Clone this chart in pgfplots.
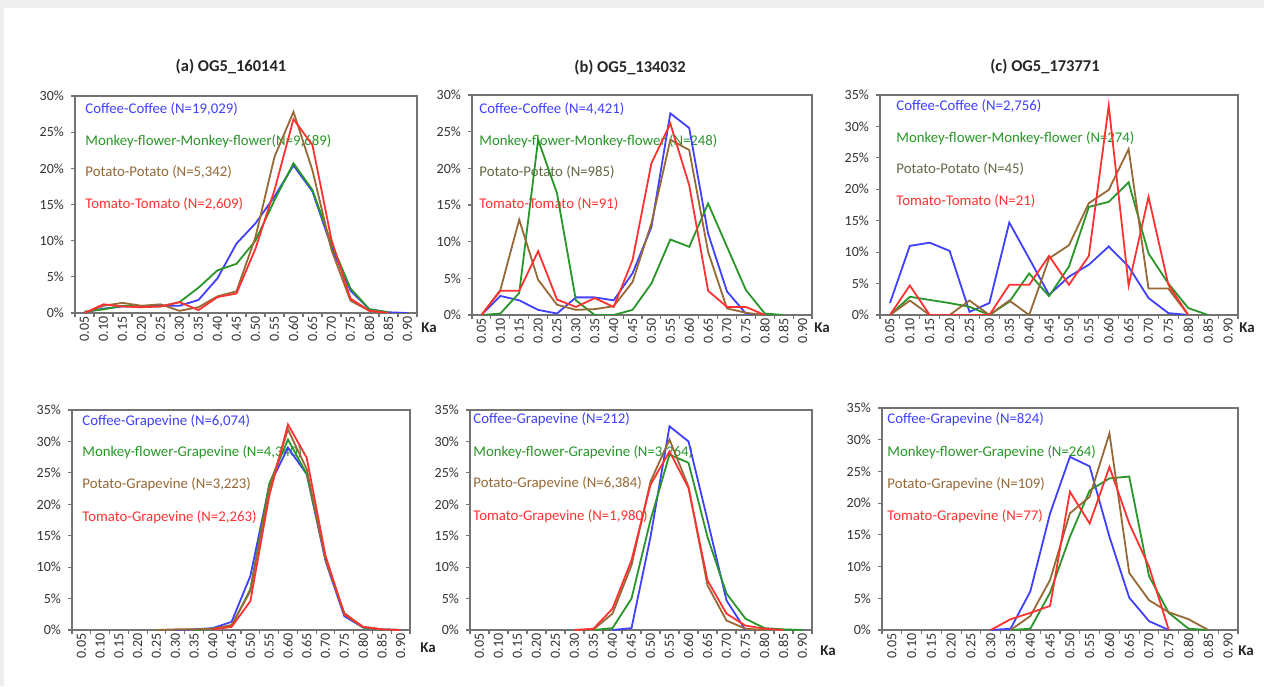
\documentclass[border=0pt]{standalone}
\usepackage{pgfplots}
\pgfplotsset{compat=1.18}
\usepackage{fontspec}
\setmainfont{Carlito}

\definecolor{cblue}{RGB}{64,64,255}
\definecolor{cgreen}{RGB}{40,150,40}
\definecolor{cbrown}{RGB}{150,105,55}
\definecolor{cred}{RGB}{255,50,50}
\definecolor{colive}{RGB}{95,105,70}
\definecolor{axgray}{RGB}{115,115,115}
\definecolor{bggray}{RGB}{238,238,238}

\pgfplotsset{
  og/.style={
    scale only axis, anchor=south west,
    xmin=-0.5, xmax=17.5, ymin=0,
    axis line style={draw=axgray, line width=1pt},
    tick pos=left, tick align=outside, major tick length=2pt,
    tick style={draw=axgray, line width=0.6pt},
    xtick={-0.5,0.5,...,17.5}, xticklabels={},
    extra x ticks={0,...,17},
    extra x tick labels={0.05,0.10,0.15,0.20,0.25,0.30,0.35,0.40,0.45,0.50,0.55,0.60,0.65,0.70,0.75,0.80,0.85,0.90},
    extra x tick style={major tick length=0pt},
    x tick label style={rotate=90, anchor=east, font=\fontsize{7}{8}\selectfont, text=black!80, inner sep=1.5pt},
    y tick label style={font=\fontsize{7}{8}\selectfont, text=black!80},
    every axis plot/.append style={line width=0.9pt, mark=none},
  },
  y30/.style={ymax=30, ytick={0,5,...,30}, yticklabels={0\%,5\%,10\%,15\%,20\%,25\%,30\%}},
  y35/.style={ymax=35, ytick={0,5,...,35}, yticklabels={0\%,5\%,10\%,15\%,20\%,25\%,30\%,35\%}},
}

\begin{document}
\begin{tikzpicture}[x=0.5pt, y=0.5pt]
\fill[bggray] (0,0) rectangle (1264,686);
\fill[white] (4,0) rectangle (1264,678);

% panel titles
\tikzset{ttl/.style={font=\fontsize{8.25}{10}\selectfont\bfseries, text=black!85}}
\node[ttl] at (231,619) {(a) OG5\_160141};
\node[ttl] at (630,618) {(b) OG5\_134032};
\node[ttl] at (1045,619) {(c) OG5\_173771};

% series labels
\tikzset{lab/.style={anchor=west, inner sep=0pt, font=\fontsize{7.4}{8}\selectfont}}
\node[lab, text=cblue]  at (85,577) {Coffee-Coffee (N=19,029)};
\node[lab, text=cgreen] at (85,545) {Monkey-flower-Monkey-flower(N=9,689)};
\node[lab, text=cbrown] at (85,514) {Potato-Potato (N=5,342)};
\node[lab, text=cred]   at (85,482) {Tomato-Tomato (N=2,609)};

\node[lab, text=cblue]  at (479,577) {Coffee-Coffee (N=4,421)};
\node[lab, text=cgreen] at (479,545) {Monkey-flower-Monkey-flower (N=248)};
\node[lab, text=colive] at (479,514) {Potato-Potato (N=985)};
\node[lab, text=cred]   at (479,482) {Tomato-Tomato (N=91)};

\node[lab, text=cblue]  at (896,580) {Coffee-Coffee (N=2,756)};
\node[lab, text=cgreen] at (896,548) {Monkey-flower-Monkey-flower (N=274)};
\node[lab, text=colive] at (896,517) {Potato-Potato (N=45)};
\node[lab, text=cred]   at (896,485) {Tomato-Tomato (N=21)};

\node[lab, text=cblue]  at (82,265) {Coffee-Grapevine (N=6,074)};
\node[lab, text=cgreen] at (82,234) {Monkey-flower-Grapevine (N=4,340)};
\node[lab, text=cbrown] at (82,202) {Potato-Grapevine (N=3,223)};
\node[lab, text=cred]   at (82,169) {Tomato-Grapevine (N=2,263)};

\node[lab, text=cblue]  at (473,267) {Coffee-Grapevine (N=212)};
\node[lab, text=cgreen] at (473,234) {Monkey-flower-Grapevine (N=3,264)};
\node[lab, text=cbrown] at (473,203) {Potato-Grapevine (N=6,384)};
\node[lab, text=cred]   at (473,170) {Tomato-Grapevine (N=1,980)};

\node[lab, text=cblue]  at (887,267) {Coffee-Grapevine (N=824)};
\node[lab, text=cgreen] at (887,234) {Monkey-flower-Grapevine (N=264)};
\node[lab, text=cbrown] at (887,202) {Potato-Grapevine (N=109)};
\node[lab, text=cred]   at (887,170) {Tomato-Grapevine (N=77)};

% Ka labels
\tikzset{ka/.style={font=\fontsize{7.5}{9}\selectfont\bfseries, text=black!85}}
\node[ka] at (429,358) {Ka};
\node[ka] at (822,358) {Ka};
\node[ka] at (1247,358) {Ka};
\node[ka] at (428,38) {Ka};
\node[ka] at (828,35) {Ka};
\node[ka] at (1246,35) {Ka};

% (a)
\begin{axis}[og, y30, at={(37.5pt,186.5pt)}, width=171pt, height=108.5pt]
\addplot[cblue] coordinates {(0,0.1)(1,0.6)(2,0.9)(3,0.9)(4,1.0)(5,1.0)(6,1.8)(7,4.8)(8,9.6)(9,12.4)(10,16.1)(11,20.4)(12,16.8)(13,9.1)(14,3.1)(15,0.5)(16,0.1)(17,0)};
\addplot[cgreen] coordinates {(0,0.2)(1,0.5)(2,1.0)(3,0.9)(4,0.9)(5,1.5)(6,3.5)(7,5.9)(8,6.8)(9,10.0)(10,15.6)(11,20.7)(12,17.0)(13,9.6)(14,3.4)(15,0.5)(16,0.1)};
\addplot[cbrown] coordinates {(0,0)(1,1.0)(2,1.4)(3,1.0)(4,1.2)(5,0.3)(6,0.8)(7,2.3)(8,3.0)(9,10.5)(10,21.6)(11,27.8)(12,19.7)(13,8.7)(14,1.7)(15,0.3)(16,0)};
\addplot[cred] coordinates {(0,0)(1,1.2)(2,0.9)(3,0.8)(4,0.9)(5,1.5)(6,0.4)(7,2.2)(8,2.7)(9,8.9)(10,17.0)(11,26.8)(12,23.2)(13,10.1)(14,2.0)(15,0.3)(16,0)};
\end{axis}

% (b)
\begin{axis}[og, y30, at={(236pt,185.5pt)}, width=170pt, height=110pt]
\addplot[cblue] coordinates {(0,0)(1,2.6)(2,2.0)(3,0.7)(4,0.2)(5,2.4)(6,2.4)(7,2.0)(8,5.7)(9,12.0)(10,27.5)(11,25.5)(12,11.1)(13,3.2)(14,0.2)(15,0)};
\addplot[cgreen] coordinates {(0,0)(1,0.2)(2,3.0)(3,23.9)(4,16.6)(5,2.0)(6,0)(7,0)(8,0.7)(9,4.3)(10,10.3)(11,9.3)(12,15.2)(13,9.3)(14,3.4)(15,0.2)(16,0)};
\addplot[cbrown] coordinates {(0,0)(1,3.4)(2,13.0)(3,4.8)(4,1.4)(5,0.7)(6,0.8)(7,1.2)(8,4.5)(9,12.5)(10,23.9)(11,22.5)(12,8.6)(13,0.9)(14,0.3)(15,0)};
\addplot[cred] coordinates {(0,0)(1,3.3)(2,3.3)(3,8.7)(4,2.1)(5,1.1)(6,2.3)(7,1.1)(8,7.5)(9,20.7)(10,26.1)(11,17.7)(12,3.3)(13,1.1)(14,1.1)(15,0)};
\end{axis}

% (c)
\begin{axis}[og, y35, at={(440pt,185.5pt)}, width=179pt, height=110pt]
\addplot[cblue] coordinates {(0,1.9)(1,11.0)(2,11.5)(3,10.2)(4,0.5)(5,1.9)(6,14.7)(7,9.0)(8,3.2)(9,6.1)(10,8.0)(11,10.9)(12,7.7)(13,2.7)(14,0.3)(15,0)};
\addplot[cgreen] coordinates {(0,0)(1,2.9)(2,2.4)(3,1.9)(4,1.3)(5,0)(6,2.1)(7,6.6)(8,3.0)(9,7.7)(10,17.2)(11,18.0)(12,21.1)(13,9.8)(14,5.0)(15,1.1)(16,0)};
\addplot[cbrown] coordinates {(0,0)(1,2.3)(2,0)(3,0)(4,2.3)(5,0)(6,2.3)(7,0)(8,9.0)(9,11.1)(10,17.8)(11,19.9)(12,26.4)(13,4.2)(14,4.2)(15,0)};
\addplot[cred] coordinates {(0,0)(1,4.7)(2,0)(3,0)(4,0)(5,0)(6,4.8)(7,4.8)(8,9.4)(9,4.8)(10,9.4)(11,33.3)(12,4.7)(13,18.8)(14,4.8)(15,0)};
\end{axis}

% (d)
\begin{axis}[og, y35, at={(36pt,28pt)}, width=169pt, height=110pt]
\addplot[cblue] coordinates {(5,0)(6,0.1)(7,0.3)(8,1.3)(9,8.6)(10,22.9)(11,29.0)(12,24.8)(13,11.0)(14,2.2)(15,0.4)(16,0.1)(17,0)};
\addplot[cgreen] coordinates {(6,0)(7,0.2)(8,0.6)(9,6.5)(10,23.2)(11,30.3)(12,24.8)(13,11.5)(14,2.5)(15,0.4)(16,0.1)(17,0)};
\addplot[cbrown] coordinates {(4,0)(5,0.1)(6,0.1)(7,0.2)(8,0.8)(9,6.2)(10,22.4)(11,31.9)(12,25.6)(13,11.2)(14,2.7)(15,0.5)(16,0.1)};
\addplot[cred] coordinates {(7,0.1)(8,0.5)(9,4.6)(10,21.3)(11,32.7)(12,27.4)(13,11.8)(14,2.5)(15,0.5)(16,0.1)(17,0)};
\end{axis}

% (e)
\begin{axis}[og, y35, at={(235pt,28pt)}, width=171pt, height=110pt]
\addplot[cblue] coordinates {(7,0)(8,0.3)(9,14.8)(10,32.4)(11,30.0)(12,17.5)(13,4.7)(14,0)};
\addplot[cgreen] coordinates {(6,0)(7,0.3)(8,5.0)(9,17.5)(10,27.9)(11,26.6)(12,14.8)(13,5.8)(14,1.8)(15,0.3)(16,0.1)(17,0)};
\addplot[cbrown] coordinates {(5,0)(6,0.1)(7,2.6)(8,10.3)(9,23.6)(10,30.3)(11,22.8)(12,7.1)(13,1.5)(14,0.2)(15,0)};
\addplot[cred] coordinates {(5,0)(6,0.2)(7,3.4)(8,11.1)(9,23.1)(10,28.4)(11,22.6)(12,7.9)(13,2.6)(14,0.7)(15,0.2)(16,0)};
\end{axis}

% (f)
\begin{axis}[og, y35, at={(441pt,28pt)}, width=178pt, height=111pt]
\addplot[cblue] coordinates {(5,0)(6,0.2)(7,6.1)(8,18.4)(9,27.3)(10,25.8)(11,14.7)(12,5.1)(13,1.4)(14,0)};
\addplot[cgreen] coordinates {(6,0)(7,0.2)(8,5.9)(9,14.7)(10,22.0)(11,23.9)(12,24.2)(13,8.5)(14,2.7)(15,0.2)(16,0)};
\addplot[cbrown] coordinates {(6,0)(7,2.2)(8,7.9)(9,18.4)(10,21.0)(11,31.0)(12,9.0)(13,4.7)(14,2.8)(15,1.7)(16,0)};
\addplot[cred] coordinates {(5,0)(6,1.7)(7,2.7)(8,3.8)(9,21.8)(10,16.8)(11,25.7)(12,16.8)(13,10.0)(14,0)};
\end{axis}
\end{tikzpicture}
\end{document}
